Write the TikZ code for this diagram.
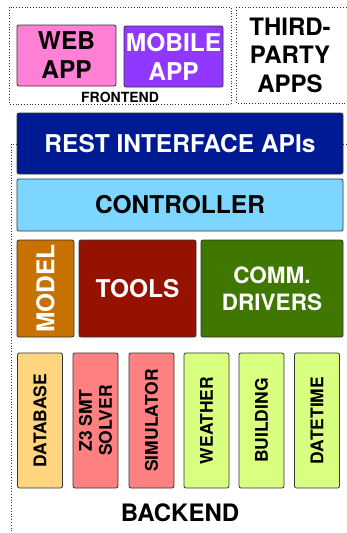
\documentclass[tikz,border=0pt]{standalone}
\usepackage{fontspec}
\setmainfont{TeX Gyre Heros}
\usetikzlibrary{positioning}
\definecolor{webPink}{HTML}{FF80D5}
\definecolor{mobilePurple}{HTML}{9038FF}
\definecolor{restBlue}{HTML}{001A94}
\definecolor{ctrlBlue}{HTML}{7DD6FF}
\definecolor{modelOrange}{HTML}{C77200}
\definecolor{toolsRed}{HTML}{961200}
\definecolor{commGreen}{HTML}{3F7700}
\definecolor{dbYellow}{HTML}{FFD580}
\definecolor{toolSalmon}{HTML}{FF8080}
\definecolor{drvLime}{HTML}{D8FF80}
\tikzset{
	layer/.style={draw=black!80, line width=.8pt, rounded corners=2pt, inner sep=0pt,
		align=center, font=\fontsize{24.5}{29}\selectfont\bfseries},
	smallbox/.style={layer, minimum width=45pt, minimum height=135pt},
	smalltext/.style={rotate=90, inner sep=0pt, align=center,
		font=\fontsize{17.5}{20}\selectfont\bfseries},
	group/.style={dotted, line width=.8pt, black!80},
	grouplabel/.style={inner sep=0pt, align=center, font=\fontsize{24}{28.5}\selectfont\bfseries}
}
\begin{document}
\begin{tikzpicture}[x=1pt, y=-1pt]
\useasboundingbox (0,0) rectangle (347,533);
\clip (0,0) rectangle (347,533);
% groups
\draw[group] (9,7) rectangle (231,104);
\draw[group] (236,7) rectangle (352,103);
\draw[group] (11,144) rectangle (352,545);
% frontend
\node[layer, fill=webPink, minimum width=99pt, minimum height=61pt] (web) at (66.5,55.5) {WEB\\APP};
\node[layer, fill=mobilePurple, text=white, minimum width=99pt, minimum height=61pt] (mobile) at (173.5,56.5) {MOBILE\\APP};
\node[grouplabel, font=\fontsize{14}{17}\selectfont\bfseries] (frontend) at (120,97) {FRONTEND};
\node[grouplabel] (third) at (290,55) {THIRD-\\PARTY\\APPS};
% backend layers
\node[layer, fill=restBlue, text=white, minimum width=326pt, minimum height=61pt] (rest) at (180,143.5) {REST INTERFACE APIs};
\node[layer, fill=ctrlBlue, minimum width=326pt, minimum height=52pt] (ctrl) at (180,205) {CONTROLLER};
\node[layer, fill=modelOrange, minimum width=57pt, minimum height=97pt] (model) at (45.5,288.5) {};
\node[text=white, rotate=90, inner sep=0pt, font=\fontsize{24.5}{29}\selectfont\bfseries] at (model.center) {MODEL};
\node[layer, fill=toolsRed, text=white, minimum width=117pt, minimum height=97pt] (tools) at (137.5,288.5) {TOOLS};
\node[layer, fill=commGreen, text=white, minimum width=142pt, minimum height=97pt, font=\fontsize{22.5}{27}\selectfont\bfseries] (comm) at (272,288.5) {COMM.\\DRIVERS};
% bottom row
\foreach \name/\cx/\col/\txt in {db/40/dbYellow/DATABASE, z3/95.5/toolSalmon/{Z3 SMT\\SOLVER},
		sim/151.5/toolSalmon/SIMULATOR, weather/206.5/drvLime/WEATHER,
		building/261.5/drvLime/BUILDING, datetime/317/drvLime/DATETIME}{
	\node[smallbox, fill=\col] (\name) at (\cx,420.5) {};
	\node[smalltext] at (\name.center) {\txt};
}
\node[grouplabel] (backend) at (180,513) {BACKEND};
\end{tikzpicture}
\end{document}
